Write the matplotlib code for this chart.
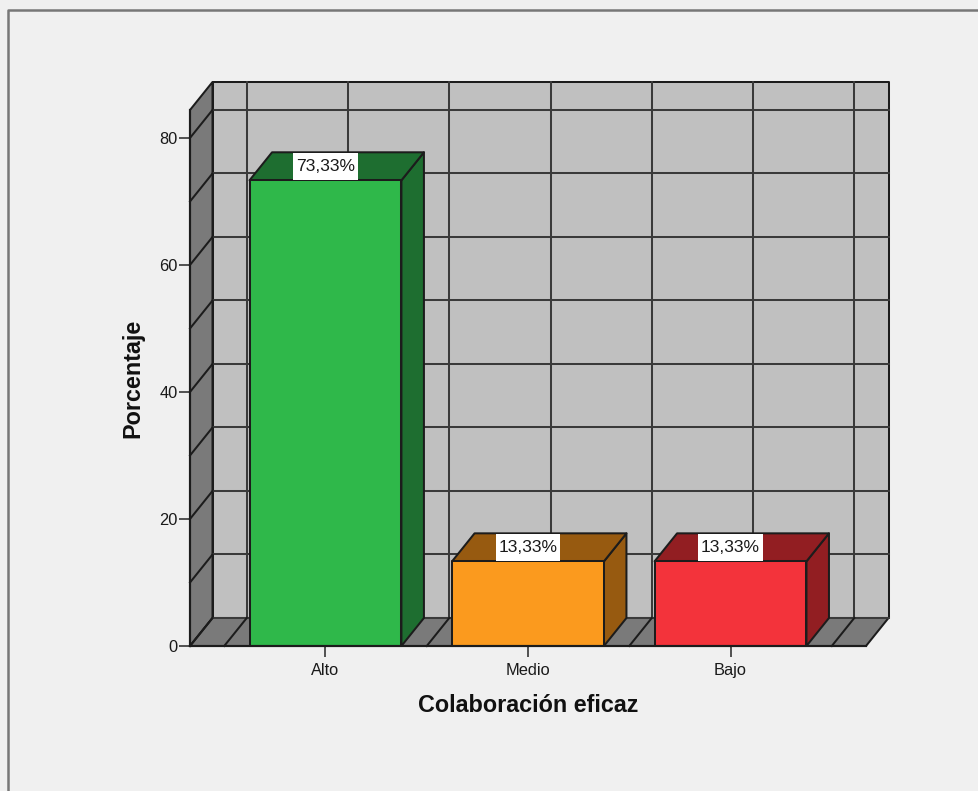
#!/usr/bin/env python3
"""Barras 3D (estilo SPSS): Colaboración eficaz."""

import numpy as np
import matplotlib
matplotlib.use('Agg')
import matplotlib.pyplot as plt
from matplotlib.lines import Line2D
from matplotlib.patches import Polygon, Rectangle

categories = ['Alto', 'Medio', 'Bajo']
values = [73.33, 13.33, 13.33]
labels = ['73,33%', '13,33%', '13,33%']
y_ticks = [0, 20, 40, 60, 80]
y_grid = [0, 10, 20, 30, 40, 50, 60, 70, 80]
x_grid = [-0.5, 0, 0.5, 1, 1.5, 2, 2.5]

front_colors = ['#2fb84a', '#fb9a1e', '#f3333b']
dark_colors = ['#1e6e30', '#975a10', '#921e22']

BG = '#f0f0f0'
WALL = '#c0c0c0'
SIDE = '#7a7a7a'
LINE = '#1c1c1c'
GRID = '#3a3a3a'

W, H = 979, 791
X0, X1 = 190, 866      # plano frontal en píxeles
Y0, Y1 = 646, 110
XLIM = (-0.669, 2.669)
YLIM = (0, 84.4)
BAR_W = 0.75
DX = 22.5 / 202.5      # profundidad en unidades de datos
DY = 28 / 6.35
LW = 1.45

plt.rcParams['font.family'] = ['Liberation Sans', 'DejaVu Sans']

fig = plt.figure(figsize=(W / 100, H / 100), dpi=100, facecolor=BG)
ax = fig.add_axes([X0 / W, 1 - Y0 / H, (X1 - X0) / W, (Y0 - Y1) / H])
ax.set_xlim(*XLIM)
ax.set_ylim(*YLIM)
ax.patch.set_visible(False)


def poly(pts, color, z, lw=LW, ec=LINE):
    ax.add_patch(Polygon(pts, closed=True, facecolor=color, edgecolor=ec,
                         linewidth=lw, zorder=z, clip_on=False, joinstyle='round'))


xa, xb = XLIM
top = YLIM[1]

# paredes y suelo
poly([(xa + DX, DY), (xb + DX, DY), (xb + DX, top + DY), (xa + DX, top + DY)], WALL, 1)
poly([(xa, 0), (xa + DX, DY), (xa + DX, top + DY), (xa, top)], SIDE, 1)
poly([(xa, 0), (xb, 0), (xb + DX, DY), (xa + DX, DY)], SIDE, 1)

# rejilla
for v in y_grid:
    ax.plot([xa + DX, xb + DX], [v + DY, v + DY], color=GRID, lw=LW, zorder=2, clip_on=False)
    ax.plot([xa, xa + DX], [v, v + DY], color=LINE, lw=LW, zorder=2, clip_on=False)
for g in x_grid:
    ax.plot([g + DX, g + DX], [DY, top + DY], color=GRID, lw=LW, zorder=2, clip_on=False)
    ax.plot([g, g + DX], [0, DY], color=LINE, lw=LW, zorder=2, clip_on=False)

# barras
for i, v in enumerate(values):
    l, r = i - BAR_W / 2, i + BAR_W / 2
    poly([(r, 0), (r + DX, DY), (r + DX, v + DY), (r, v)], dark_colors[i], 3)
    poly([(l, v), (r, v), (r + DX, v + DY), (l + DX, v + DY)], dark_colors[i], 3)
    poly([(l, 0), (r, 0), (r, v), (l, v)], front_colors[i], 4)
    ax.add_patch(Rectangle((i - 0.16, v + 0.12), 0.32, DY - 0.24, facecolor='white',
                           edgecolor='none', zorder=5))
    ax.text(i, v + DY / 2 - 0.05, labels[i], ha='center', va='center', fontsize=12.6,
            color='#1a1a1a', zorder=6)

# ejes
for s in ('top', 'right'):
    ax.spines[s].set_visible(False)
for s in ('left', 'bottom'):
    ax.spines[s].set_linewidth(LW + 0.1)
    ax.spines[s].set_color(LINE)
    ax.spines[s].set_zorder(7)
ax.set_xticks(np.arange(len(categories)))
ax.set_xticklabels(categories)
ax.set_yticks(y_ticks)
ax.tick_params(axis='both', length=7.9, width=1.3, color='#444444', labelsize=11.8,
               labelcolor='#1a1a1a')
ax.tick_params(axis='x', pad=4.5)
ax.tick_params(axis='y', pad=0.8)
ax.set_zorder(2)

fig.text(528 / W, 1 - 706 / H, 'Colaboración eficaz', ha='center', va='center',
         fontsize=16.8, fontweight='bold', color='#111111')
fig.text(133 / W, 1 - 378 / H, 'Porcentaje', ha='center', va='center', rotation=90,
         fontsize=16.8, fontweight='bold', color='#111111')

# marco exterior
fig.add_artist(Line2D([8.5 / W, 8.5 / W, 1], [0, 1 - 10 / H, 1 - 10 / H],
                      color='#777777', lw=1.8))

fig.savefig('out.png', dpi=100, facecolor=BG)
plt.close(fig)
